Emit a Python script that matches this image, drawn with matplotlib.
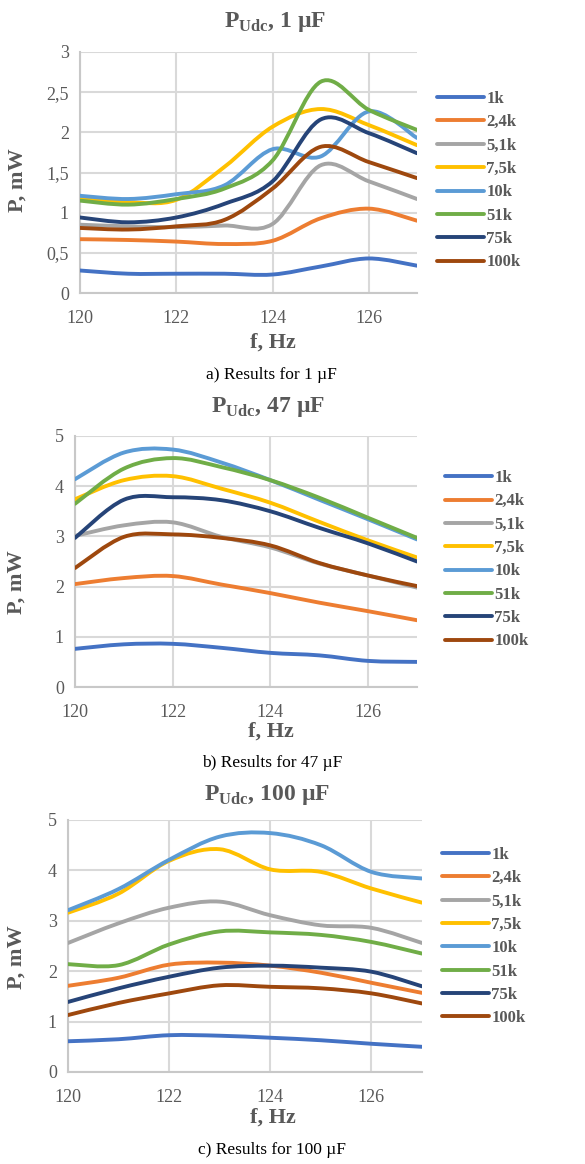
import matplotlib
matplotlib.use("Agg")
import matplotlib.pyplot as plt
from matplotlib.path import Path
from matplotlib.patches import PathPatch
from matplotlib.lines import Line2D
import numpy as np

plt.rcParams['font.family'] = ['Liberation Serif', 'DejaVu Serif']
plt.rcParams['mathtext.fontset'] = 'custom'
plt.rcParams['mathtext.rm'] = 'Liberation Serif'
plt.rcParams['mathtext.bf'] = 'Liberation Serif:bold'

# Data
freq = [120, 121, 122, 123, 124, 125, 126, 127]
loads = ['1k', '2,4k', '5,1k', '7,5k', '10k', '51k', '75k', '100k']
colors = ['#4472C4', '#ED7D31', '#A5A5A5', '#FFC000', '#5B9BD5', '#70AD47', '#264478', '#9E480E']

p_1uF = [
    [0.28, 0.24, 0.24, 0.24, 0.23, 0.33, 0.43, 0.34],
    [0.67, 0.66, 0.64, 0.61, 0.65, 0.93, 1.05, 0.90],
    [0.85, 0.83, 0.82, 0.84, 0.86, 1.59, 1.39, 1.17],
    [1.17, 1.13, 1.16, 1.57, 2.07, 2.29, 2.09, 1.84],
    [1.21, 1.17, 1.23, 1.34, 1.79, 1.70, 2.26, 1.93],
    [1.15, 1.10, 1.17, 1.30, 1.65, 2.63, 2.28, 2.03],
    [0.94, 0.88, 0.94, 1.11, 1.39, 2.16, 1.99, 1.74],
    [0.81, 0.79, 0.83, 0.91, 1.30, 1.82, 1.63, 1.43],
]
p_47uF = [
    [0.76, 0.85, 0.86, 0.78, 0.68, 0.63, 0.52, 0.50],
    [2.05, 2.17, 2.21, 2.04, 1.87, 1.68, 1.51, 1.33],
    [3.01, 3.22, 3.28, 2.99, 2.78, 2.46, 2.22, 1.98],
    [3.74, 4.12, 4.20, 3.95, 3.67, 3.29, 2.92, 2.58],
    [4.14, 4.67, 4.73, 4.47, 4.12, 3.73, 3.34, 2.94],
    [3.65, 4.35, 4.56, 4.38, 4.12, 3.77, 3.37, 2.97],
    [2.97, 3.73, 3.78, 3.72, 3.50, 3.17, 2.86, 2.50],
    [2.37, 2.99, 3.04, 2.97, 2.82, 2.47, 2.22, 2.01],
]
p_100uF = [
    [0.61, 0.65, 0.73, 0.72, 0.68, 0.63, 0.56, 0.50],
    [1.71, 1.87, 2.13, 2.17, 2.11, 1.97, 1.77, 1.57],
    [2.56, 2.95, 3.26, 3.38, 3.11, 2.91, 2.86, 2.56],
    [3.16, 3.54, 4.19, 4.42, 4.02, 3.97, 3.64, 3.36],
    [3.21, 3.63, 4.21, 4.67, 4.74, 4.50, 3.97, 3.84],
    [2.14, 2.12, 2.53, 2.79, 2.77, 2.72, 2.58, 2.35],
    [1.39, 1.66, 1.89, 2.07, 2.11, 2.07, 1.99, 1.70],
    [1.13, 1.37, 1.56, 1.72, 1.69, 1.66, 1.56, 1.36],
]

W, H = 585, 1164
fig = plt.figure(figsize=(W / 100, H / 100), dpi=100)
gray = '#595959'


def smooth_path(x, y):
    # Excel-style smoothed line: cubic Bezier segments through each point
    pts = np.column_stack([x, y]).astype(float)
    ext = np.vstack([pts[0], pts, pts[-1]])
    verts = [pts[0]]
    codes = [Path.MOVETO]
    for i in range(len(pts) - 1):
        p0, p1, p2, p3 = ext[i], ext[i + 1], ext[i + 2], ext[i + 3]
        verts += [p1 + (p2 - p0) / 6, p2 - (p3 - p1) / 6, p2]
        codes += [Path.CURVE4] * 3
    return Path(verts, codes)


def px_axes(l, r, t, b):
    return fig.add_axes([l / W, 1 - b / H, (r - l) / W, (b - t) / H])


panels = [
    dict(data=p_1uF, box=(80, 417, 52, 293), ymax=3, ystep=0.5, cap='1 µF', tag='a',
         title=(275, 22), ylab=(18, 180), xlab=(273, 343), capxy=(271, 375), leg=(437, 91)),
    dict(data=p_47uF, box=(75, 417, 436, 687), ymax=5, ystep=1, cap='47 µF', tag='b',
         title=(268, 407), ylab=(17, 582), xlab=(271, 732), capxy=(272, 763), leg=(445, 470)),
    dict(data=p_100uF, box=(68, 422, 820, 1072), ymax=5, ystep=1, cap='100 µF', tag='c',
         title=(267, 795), ylab=(17, 957), xlab=(273, 1118), capxy=(272, 1150), leg=(442, 847)),
]

for pn in panels:
    ax = px_axes(*pn['box'])
    for vals, c in zip(pn['data'], colors):
        patch = PathPatch(smooth_path(freq, vals), facecolor='none', edgecolor=c,
                          lw=2.8, capstyle='round', joinstyle='round', zorder=3)
        ax.add_patch(patch)
    ax.set_xlim(120, 127)
    ax.set_ylim(0, pn['ymax'])
    ax.set_xticks([120, 122, 124, 126])
    yt = np.arange(0, pn['ymax'] + 1e-9, pn['ystep'])
    ax.set_yticks(yt)
    ax.set_yticklabels([('%g' % v).replace('.', ',') for v in yt])
    ax.tick_params(length=0, labelsize=13, labelcolor=gray)
    ax.tick_params(axis='x', pad=12)
    ax.tick_params(axis='y', pad=8)
    ax.grid(True, color='#d9d9d9', lw=1.5)
    ax.set_axisbelow(True)
    for s in ['top', 'right']:
        ax.spines[s].set_visible(False)
    for s in ['left', 'bottom']:
        ax.spines[s].set_color('#c8c8c8')
        ax.spines[s].set_linewidth(1.5)

    tx, ty = pn['title']
    fig.text(tx / W, 1 - ty / H, r'P$_{\mathbf{Udc}}$, ' + pn['cap'], ha='center', va='center',
             fontsize=17, fontweight='bold', color=gray)
    lx, ly = pn['ylab']
    fig.text(lx / W, 1 - ly / H, 'P, mW', rotation=90, ha='center', va='center',
             fontsize=16, fontweight='bold', color=gray)
    xx, xy = pn['xlab']
    fig.text(xx / W, 1 - xy / H, 'f, Hz', ha='center', va='center',
             fontsize=16, fontweight='bold', color=gray)
    cx, cy = pn['capxy']
    fig.text(cx / W, 1 - cy / H, '%s) Results for %s' % (pn['tag'], pn['cap']),
             ha='center', va='center', fontsize=12.5, color='black')

    handles = [Line2D([], [], color=c, lw=2.8, solid_capstyle='round') for c in colors]
    gx, gy = pn['leg']
    leg = fig.legend(handles, loads, loc='upper left', bbox_to_anchor=(gx / W, 1 - gy / H),
                     frameon=False, borderpad=0, borderaxespad=0, handlelength=2.8,
                     handletextpad=0.15, labelspacing=0.44,
                     prop={'size': 12, 'weight': 'bold'})
    for t in leg.get_texts():
        t.set_color(gray)

fig.savefig('out.png', dpi=100)
